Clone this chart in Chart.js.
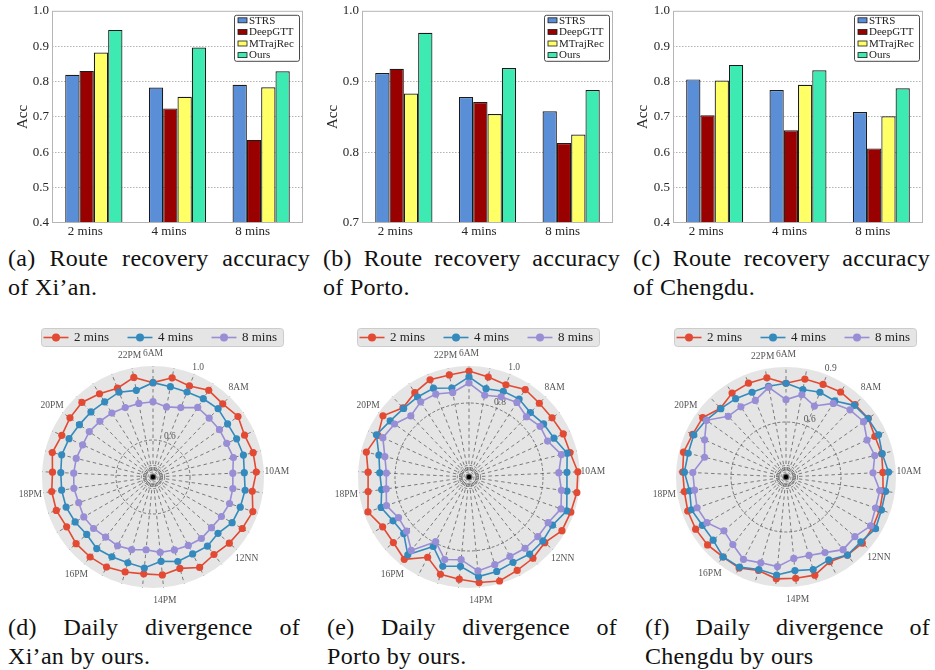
<!DOCTYPE html>
<html>
<head>
<meta charset="utf-8">
<script src="https://cdn.jsdelivr.net/npm/chart.js@4.4.1/dist/chart.umd.min.js"></script>
<style>
  html, body { margin: 0; padding: 0; background: #fff; }
  #page { position: relative; width: 935px; height: 670px; overflow: hidden; background: #fff; }
  canvas { position: absolute; }
  .cap { position: absolute; font-family: "Liberation Serif", "Times New Roman", serif; font-size: 24px; line-height: 29px; letter-spacing: 0.3px; color: #111; }
  .cap .l1 { text-align: justify; text-align-last: justify; white-space: nowrap; }
  .cap .l2 { text-align: left; white-space: nowrap; }
</style>
</head>
<body>
<div id="page">
  <canvas id="barXian" width="315" height="240" style="left:0px;top:0px"></canvas>
  <canvas id="barPorto" width="310" height="240" style="left:315px;top:0px"></canvas>
  <canvas id="barChengdu" width="310" height="240" style="left:625px;top:0px"></canvas>
  <canvas id="radXian" width="310" height="288" style="left:0px;top:322px"></canvas>
  <canvas id="radPorto" width="310" height="288" style="left:315px;top:322px"></canvas>
  <canvas id="radChengdu" width="310" height="288" style="left:625px;top:322px"></canvas>

  <div class="cap" style="left:8px;top:244px;width:302px"><div class="l1">(a) Route recovery accuracy</div><div class="l2">of Xi’an.</div></div>
  <div class="cap" style="left:323px;top:244px;width:297px"><div class="l1">(b) Route recovery accuracy</div><div class="l2">of Porto.</div></div>
  <div class="cap" style="left:633px;top:244px;width:297px"><div class="l1">(c) Route recovery accuracy</div><div class="l2">of Chengdu.</div></div>
  <div class="cap" style="left:8px;top:613px;width:292px"><div class="l1">(d) Daily divergence of</div><div class="l2">Xi’an by ours.</div></div>
  <div class="cap" style="left:327px;top:613px;width:290px"><div class="l1">(e) Daily divergence of</div><div class="l2">Porto by ours.</div></div>
  <div class="cap" style="left:645px;top:613px;width:285px"><div class="l1">(f) Daily divergence of</div><div class="l2">Chengdu by ours</div></div>
</div>
<script>
// ---------------- data: bar charts ----------------
const barCategories = ['2 mins', '4 mins', '8 mins'];
const barMethods = ['STRS', 'DeepGTT', 'MTrajRec', 'Ours'];
const barColors = ['#5A8FD8', '#990000', '#FFFF66', '#3DEBB2'];

const xianSTRS     = [0.819, 0.783, 0.791];
const xianDeepGTT  = [0.830, 0.724, 0.635];
const xianMTrajRec = [0.882, 0.757, 0.784];
const xianOurs     = [0.946, 0.896, 0.829];

const portoSTRS     = [0.912, 0.878, 0.858];
const portoDeepGTT  = [0.918, 0.871, 0.813];
const portoMTrajRec = [0.883, 0.854, 0.825];
const portoOurs     = [0.969, 0.919, 0.888];

const chengduSTRS     = [0.806, 0.776, 0.714];
const chengduDeepGTT  = [0.705, 0.662, 0.611];
const chengduMTrajRec = [0.803, 0.791, 0.702];
const chengduOurs     = [0.847, 0.832, 0.781];

// ---------------- data: radar charts ----------------
const radarSeries = ['2 mins', '4 mins', '8 mins'];
const radarColors = ['#E24A33', '#348ABD', '#988ED5'];
const spokeTicks = ['6AM', '8AM', '10AM', '12NN', '14PM', '16PM', '18PM', '20PM', '22PM'];
const spokeCount = 33;
const spokeLabels = Array.from({length: spokeCount}, (_, i) => (i % 4 === 0 ? spokeTicks[i / 4] : ''));

const xian2 = [0.910,0.946,0.930,0.957,0.946,0.964,0.944,0.957,0.959,0.942,0.971,0.957,0.946,0.933,0.950,0.915,0.932,0.926,0.935,0.948,0.950,0.950,0.939,0.953,0.953,0.944,0.960,0.942,0.951,0.957,0.935,0.917,0.948];
const xian4 = [0.910,0.897,0.895,0.903,0.910,0.895,0.897,0.903,0.894,0.903,0.899,0.894,0.865,0.876,0.868,0.876,0.858,0.894,0.883,0.885,0.892,0.874,0.886,0.897,0.899,0.899,0.908,0.899,0.888,0.886,0.883,0.894,0.877];
const xian8 = [0.807,0.786,0.804,0.847,0.840,0.841,0.838,0.847,0.832,0.836,0.838,0.827,0.818,0.823,0.816,0.811,0.809,0.795,0.809,0.818,0.814,0.825,0.832,0.825,0.832,0.829,0.827,0.818,0.823,0.816,0.811,0.804,0.805];

const porto2 = [0.973,0.950,0.937,0.962,0.951,0.951,0.960,0.962,0.989,0.989,0.982,0.980,0.942,0.959,0.968,0.986,0.973,0.955,0.948,0.888,0.966,0.941,0.939,0.978,0.951,0.946,0.971,0.941,0.971,0.917,0.942,0.966,0.962];
const porto4 = [0.941,0.886,0.899,0.901,0.881,0.895,0.905,0.946,0.930,0.935,0.959,0.921,0.928,0.930,0.919,0.932,0.941,0.885,0.903,0.822,0.935,0.867,0.874,0.903,0.877,0.883,0.901,0.950,0.923,0.912,0.914,0.917,0.890];
const porto8 = [0.908,0.850,0.867,0.879,0.850,0.872,0.867,0.914,0.886,0.905,0.926,0.894,0.892,0.890,0.883,0.894,0.910,0.849,0.865,0.793,0.905,0.847,0.840,0.872,0.852,0.847,0.868,0.912,0.894,0.856,0.883,0.883,0.865];

const chengdu2 = [0.811,0.844,0.844,0.851,0.846,0.851,0.833,0.837,0.829,0.835,0.842,0.847,0.851,0.842,0.820,0.858,0.855,0.858,0.831,0.858,0.855,0.866,0.869,0.867,0.860,0.864,0.875,0.860,0.858,0.818,0.844,0.851,0.851];
const chengdu4 = [0.811,0.786,0.798,0.793,0.840,0.849,0.855,0.840,0.860,0.849,0.851,0.864,0.840,0.842,0.809,0.826,0.813,0.837,0.826,0.853,0.855,0.826,0.827,0.846,0.831,0.855,0.849,0.853,0.835,0.815,0.808,0.798,0.804];
const chengdu8 = [0.722,0.757,0.717,0.777,0.806,0.820,0.786,0.798,0.775,0.817,0.817,0.833,0.797,0.804,0.764,0.746,0.746,0.791,0.788,0.806,0.769,0.748,0.798,0.813,0.804,0.809,0.757,0.788,0.833,0.757,0.755,0.750,0.798];

// ---------------- styling ----------------
const SERIF = '"Liberation Serif", "Times New Roman", serif';
const TXT = '#262626';
Chart.defaults.font.family = SERIF;

function roundRect(ctx, x, y, w, h, r) {
  ctx.beginPath();
  ctx.moveTo(x + r, y);
  ctx.lineTo(x + w - r, y); ctx.quadraticCurveTo(x + w, y, x + w, y + r);
  ctx.lineTo(x + w, y + h - r); ctx.quadraticCurveTo(x + w, y + h, x + w - r, y + h);
  ctx.lineTo(x + r, y + h); ctx.quadraticCurveTo(x, y + h, x, y + h - r);
  ctx.lineTo(x, y + r); ctx.quadraticCurveTo(x, y, x + r, y);
  ctx.closePath();
}

const barDecor = {
  id: 'barDecor',
  afterDraw(chart) {
    const {ctx, chartArea: a} = chart;
    ctx.save();
    // frame
    ctx.strokeStyle = '#b5b5b5';
    ctx.lineWidth = 1;
    ctx.strokeRect(a.left + 0.5, a.top + 0.5, a.right - a.left - 1, a.bottom - a.top - 1);
    // inner legend (top-right)
    const w = 65, h = 46;
    const x0 = a.right - 4 - w, y0 = a.top + 4;
    roundRect(ctx, x0 + 0.5, y0 + 0.5, w, h, 2);
    ctx.fillStyle = '#ffffff'; ctx.fill();
    ctx.strokeStyle = '#333'; ctx.lineWidth = 0.9; ctx.stroke();
    ctx.font = '11px ' + SERIF;
    ctx.textAlign = 'left'; ctx.textBaseline = 'middle';
    chart.data.datasets.forEach((ds, k) => {
      const yc = y0 + 5.5 + k * 11.6;
      ctx.fillStyle = ds.backgroundColor;
      ctx.fillRect(x0 + 4, yc - 2.5, 9, 5);
      ctx.strokeStyle = '#1b1b1b'; ctx.lineWidth = 0.8;
      ctx.strokeRect(x0 + 4, yc - 2.5, 9, 5);
      ctx.fillStyle = '#222';
      ctx.fillText(ds.label, x0 + 15, yc + 0.5);
    });
    ctx.restore();
  }
};

function makeBar(id, series, yMin, yMax, axisWidth, titlePad) {
  const isEdge = v => Math.abs(v - yMin) < 1e-6 || Math.abs(v - yMax) < 1e-6;
  return new Chart(document.getElementById(id), {
    type: 'bar',
    data: {
      labels: barCategories,
      datasets: barMethods.map((m, k) => ({
        label: m,
        data: series[k],
        backgroundColor: barColors[k],
        borderColor: '#1b1b1b',
        borderWidth: 1.2,
        borderSkipped: 'start',
        categoryPercentage: 0.684,
        barPercentage: 1.0
      }))
    },
    options: {
      responsive: false,
      animation: false,
      layout: {padding: {left: 0, right: 12, top: 9, bottom: 0}},
      plugins: {legend: {display: false}, tooltip: {enabled: false}},
      scales: {
        x: {
          grid: {display: false, drawTicks: false},
          border: {display: false},
          ticks: {font: {family: SERIF, size: 13}, color: TXT, padding: 1, labelOffset: -8.5, maxRotation: 0},
          afterFit(s) { s.height = 17; }
        },
        y: {
          min: yMin, max: yMax,
          ticks: {stepSize: 0.1, callback: v => Number(v).toFixed(1), font: {family: SERIF, size: 13}, color: TXT, padding: 3},
          grid: {drawTicks: false, color: c => (isEdge(c.tick.value) ? 'rgba(0,0,0,0)' : '#aaaaaa'), lineWidth: 0.9},
          border: {display: false, dash: [1.5, 1.5]},
          title: {display: true, text: 'Acc', font: {family: SERIF, size: 15}, color: TXT, padding: {top: titlePad, bottom: 0}},
          afterFit(s) { s.width = axisWidth; }
        }
      }
    },
    plugins: [barDecor]
  });
}

makeBar('barXian', [xianSTRS, xianDeepGTT, xianMTrajRec, xianOurs], 0.4, 1.0, 52, 14);
makeBar('barPorto', [portoSTRS, portoDeepGTT, portoMTrajRec, portoOurs], 0.7, 1.0, 47, 9);
makeBar('barChengdu', [chengduSTRS, chengduDeepGTT, chengduMTrajRec, chengduOurs], 0.4, 1.0, 48, 9);

// ---------------- radar charts ----------------
const ringFractions = [0.025, 0.045, 0.065, 0.085, 0.105];

function makeRadar(id, series, rMin, rMax, gridVal, rLabelVals, pad) {
  const near = (a, b) => Math.abs(a - b) < 1e-9;
  const decor = {
    id: 'radarDecor',
    beforeDatasetsDraw(chart) {
      const s = chart.scales.r, ctx = chart.ctx;
      ctx.save();
      // center dot
      ctx.fillStyle = '#000';
      ctx.beginPath(); ctx.arc(s.xCenter, s.yCenter, 2.2, 0, Math.PI * 2); ctx.fill();
      // radial tick labels at 22.5 degrees
      const ang = 22.5 * Math.PI / 180;
      ctx.font = '9.5px ' + SERIF; ctx.fillStyle = '#555';
      ctx.textAlign = 'center'; ctx.textBaseline = 'middle';
      rLabelVals.forEach(v => {
        const d = s.getDistanceFromCenterForValue(v) + 7;
        ctx.fillText(v.toFixed(1), s.xCenter + d * Math.sin(ang), s.yCenter - d * Math.cos(ang));
      });
      ctx.restore();
    },
    afterDraw(chart) {
      const s = chart.scales.r, ctx = chart.ctx;
      const R = s.drawingArea;
      ctx.save();
      // spoke labels
      ctx.font = '9.5px ' + SERIF; ctx.fillStyle = '#555';
      ctx.textAlign = 'center'; ctx.textBaseline = 'middle';
      chart.data.labels.forEach((lab, i) => {
        if (!lab) return;
        const p = s.getPointPosition(i, R + 13);
        ctx.fillText(lab, p.x, p.y);
      });
      // legend
      const bx = s.xCenter - 112, by = s.yCenter - 149, bw = 242, bh = 18;
      roundRect(ctx, bx + 0.5, by + 0.5, bw, bh, 3);
      ctx.fillStyle = '#E5E5E5'; ctx.fill();
      ctx.strokeStyle = '#cccccc'; ctx.lineWidth = 1; ctx.stroke();
      const yc = by + bh / 2 + 0.5;
      const offs = [-97, -13, 71];
      ctx.font = '13px ' + SERIF; ctx.textAlign = 'left';
      chart.data.datasets.forEach((ds, k) => {
        const mx = s.xCenter + offs[k];
        ctx.strokeStyle = ds.borderColor; ctx.lineWidth = 1.6;
        ctx.beginPath(); ctx.moveTo(mx - 12.5, yc); ctx.lineTo(mx + 12.5, yc); ctx.stroke();
        ctx.fillStyle = ds.borderColor;
        ctx.beginPath(); ctx.arc(mx, yc, 4, 0, Math.PI * 2); ctx.fill();
        ctx.fillStyle = '#222';
        ctx.fillText(ds.label, mx + 18, yc + 0.5);
      });
      ctx.restore();
    }
  };
  const order = [2, 1, 0];
  return new Chart(document.getElementById(id), {
    type: 'radar',
    data: {
      labels: spokeLabels,
      datasets: radarSeries.map((name, k) => ({
        label: name,
        data: series[k],
        borderColor: radarColors[k],
        backgroundColor: radarColors[k],
        pointBackgroundColor: radarColors[k],
        pointBorderWidth: 0,
        pointRadius: 3.6,
        borderWidth: 1.6,
        fill: false,
        tension: 0,
        order: order[k]
      }))
    },
    options: {
      responsive: false,
      animation: false,
      layout: {padding: pad},
      plugins: {legend: {display: false}, tooltip: {enabled: false}},
      scales: {
        r: {
          min: rMin, max: rMax,
          backgroundColor: '#E5E5E5',
          ticks: {display: false},
          pointLabels: {display: false},
          angleLines: {display: true, color: '#5e5e5e', lineWidth: 0.8, borderDash: [3.5, 3]},
          grid: {
            circular: true,
            color: c => {
              const v = c.tick ? c.tick.value : 0;
              if (near(v, rMax)) return 'rgba(0,0,0,0)';
              if (near(v, gridVal)) return '#6a6a6a';
              return '#444';
            },
            lineWidth: c => (c.tick && near(c.tick.value, gridVal) ? 0.9 : 0.6)
          },
          border: {dash: [3, 2]},
          afterBuildTicks(scale) {
            const span = rMax - rMin;
            const vals = [rMin].concat(ringFractions.map(f => rMin + f * span), [gridVal, rMax]);
            scale.ticks = vals.map(v => ({value: v}));
          }
        }
      }
    },
    plugins: [decor]
  });
}

makeRadar('radXian', [xian2, xian4, xian8], 0.4, 1.0, 0.6, [1.0, 0.6], {left: 42, right: 46, top: 44, bottom: 22});
makeRadar('radPorto', [porto2, porto4, porto8], 0.4, 1.0, 0.8, [1.0, 0.8], {left: 43, right: 45, top: 44, bottom: 22});
makeRadar('radChengdu', [chengdu2, chengdu4, chengdu8], 0.3, 0.9, 0.6, [0.9, 0.6], {left: 51, right: 39, top: 45, bottom: 23});
</script>
</body>
</html>
